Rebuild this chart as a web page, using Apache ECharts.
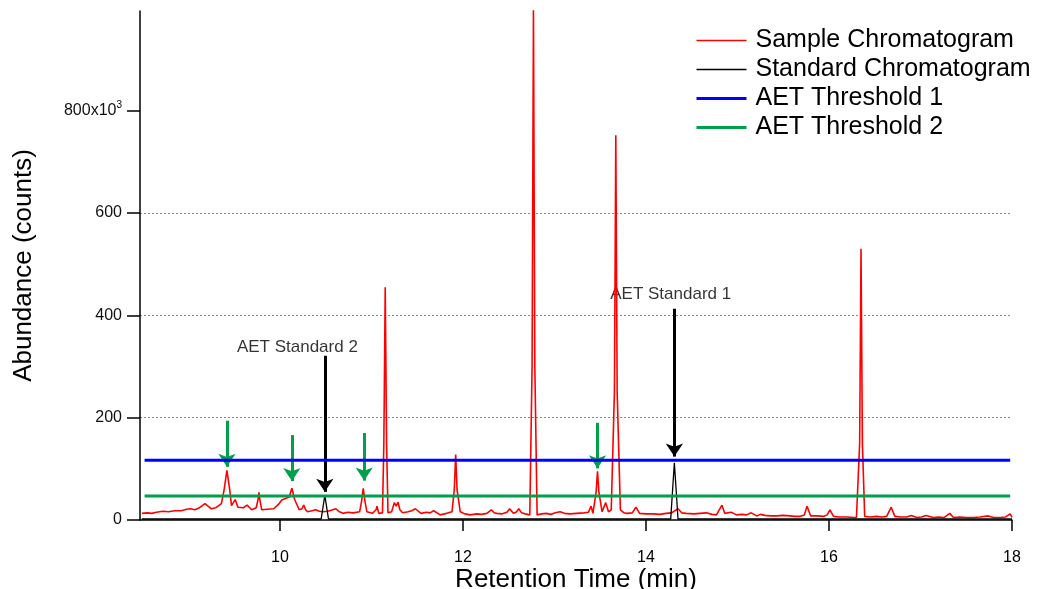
<!DOCTYPE html>
<html>
<head>
<meta charset="utf-8">
<script src="https://cdn.jsdelivr.net/npm/echarts@6/dist/echarts.min.js"></script>
<style>
  html, body { margin: 0; padding: 0; background: #fff; }
  #chart { width: 1042px; height: 589px; }
</style>
</head>
<body>
<div id="chart"></div>
<script>
// retention time (min), abundance (x10^3 counts)
var sampleTrace = [
  [8.49,13],[8.55,14],[8.6,13],[8.65,15],[8.72,17],[8.78,16],[8.85,18],[8.92,18],[8.98,21],[9.02,22],
  [9.07,20],[9.12,24],[9.18,32],[9.22,26],[9.25,22],[9.3,24],[9.36,32],[9.39,60],[9.42,97],[9.45,60],
  [9.47,28],[9.51,40],[9.54,25],[9.56,22],[9.6,24],[9.64,29],[9.69,20],[9.74,24],[9.76,40],[9.77,54],
  [9.78,40],[9.8,20],[9.86,21],[9.93,22],[9.98,30],[10.02,39],[10.06,42],[10.1,45],[10.13,62],[10.16,40],
  [10.21,20],[10.24,22],[10.26,29],[10.28,20],[10.3,16],[10.35,18],[10.39,20],[10.43,17],[10.47,16],[10.52,17],
  [10.56,19],[10.61,22],[10.65,16],[10.69,13],[10.74,15],[10.8,14],[10.87,16],[10.89,35],[10.91,62],[10.93,35],
  [10.95,16],[11.01,13],[11.05,20],[11.06,27],[11.08,13],[11.12,14],[11.135,150],[11.15,455],[11.165,150],[11.18,14],
  [11.22,16],[11.25,34],[11.27,27],[11.29,35],[11.31,20],[11.34,14],[11.4,16],[11.44,18],[11.48,22],[11.54,13],
  [11.6,15],[11.64,14],[11.68,18],[11.75,10],[11.82,13],[11.88,16],[11.905,60],[11.92,128],[11.935,60],[11.97,16],
  [12.02,12],[12.08,10],[12.15,12],[12.2,11],[12.26,13],[12.31,20],[12.34,14],[12.37,13],[12.43,12],[12.48,15],
  [12.51,22],[12.55,13],[12.58,15],[12.61,22],[12.64,14],[12.68,12],[12.73,10],[12.755,300],[12.77,998],[12.785,300],
  [12.81,10],[12.86,12],[12.91,13],[12.96,11],[13.01,14],[13.06,16],[13.11,13],[13.17,12],[13.24,13],[13.32,14],
  [13.37,15],[13.4,27],[13.42,13],[13.455,55],[13.47,95],[13.485,55],[13.52,16],[13.56,34],[13.59,16],[13.62,20],
  [13.655,250],[13.67,752],[13.685,250],[13.72,20],[13.76,14],[13.79,13],[13.85,14],[13.89,25],[13.93,13],[14.0,12],
  [14.08,12],[14.15,11],[14.22,13],[14.28,14],[14.35,22],[14.39,14],[14.44,13],[14.52,12],[14.59,13],[14.66,14],
  [14.72,11],[14.77,10],[14.83,29],[14.86,13],[14.88,10],[14.93,15],[14.99,10],[15.05,11],[15.1,10],[15.15,14],
  [15.21,8],[15.25,11],[15.3,9],[15.36,8],[15.43,8],[15.5,9],[15.57,8],[15.63,7],[15.68,7],[15.73,10],
  [15.76,27],[15.8,8],[15.87,8],[15.94,7],[15.98,10],[16.01,20],[16.05,7],[16.12,6],[16.2,6],[16.27,5],
  [16.3,5],[16.335,150],[16.35,530],[16.365,150],[16.39,7],[16.45,6],[16.52,7],[16.58,6],[16.63,7],[16.68,25],
  [16.72,7],[16.78,6],[16.85,6],[16.9,9],[16.96,5],[17.01,6],[17.06,9],[17.14,5],[17.2,6],[17.26,5],
  [17.32,13],[17.36,5],[17.43,6],[17.5,5],[17.58,5],[17.65,6],[17.74,8],[17.8,5],[17.87,5],[17.93,6],
  [17.98,12],[18.0,5]
];
var standardTrace = [
  [8.49,2],[10.45,2],[10.49,48],[10.53,2],[14.27,2],[14.31,112],[14.35,2],[18.0,2]
];
var threshold1 = [[8.52,117],[17.98,117]];
var threshold2 = [[8.52,47],[17.98,47]];
// green arrows: [x, top, tip]
var peakArrows = [[9.42,194,104],[10.13,166,76],[10.92,170,77],[13.47,190,101]];
// black arrows: [x, top, tip]
var standardArrows = [[10.49,321,55],[14.31,413,124]];
var standardLabels = [[10.19,338,'AET Standard 2'],[14.27,442,'AET Standard 1']];
var xTicks = [10,12,14,16,18];
var yTicks = [0,200,400,600,800];

var font = 'Liberation Sans';
var chart = echarts.init(document.getElementById('chart'));

function arrowLines(list) {
  return list.map(function (a) {
    return [{ coord: [a[0], a[1]] }, { coord: [a[0], a[2]] }];
  });
}

var option = {
  animation: false,
  backgroundColor: '#fff',
  textStyle: { fontFamily: font, color: '#000' },
  grid: { left: 140, right: 30, top: 11, bottom: 69, outerBoundsMode: 'none' },
  legend: {
    orient: 'vertical',
    left: 690,
    top: 23,
    itemWidth: 50,
    itemHeight: 22,
    itemGap: 4,
    itemStyle: { opacity: 0 },
    data: [
      { name: 'Sample Chromatogram', lineStyle: { width: 1.5, color: '#ff0000', opacity: 1 } },
      { name: 'Standard Chromatogram', lineStyle: { width: 1.5, color: '#000000', opacity: 1 } },
      { name: 'AET Threshold 1', lineStyle: { width: 3, color: '#0000ff' } },
      { name: 'AET Threshold 2', lineStyle: { width: 3, color: '#00a04a' } }
    ],
    textStyle: { fontFamily: font, fontSize: 25, color: '#000', padding: [0, 0, 0, 4] }
  },
  xAxis: {
    type: 'value',
    min: 8.47,
    max: 18,
    name: 'Retention Time (min)',
    nameLocation: 'middle',
    nameGap: 47,
    nameMoveOverlap: false,
    nameTextStyle: { fontFamily: font, fontSize: 26, color: '#000' },
    axisLine: { lineStyle: { color: '#000', width: 1.5 } },
    axisTick: { customValues: xTicks, length: 11, lineStyle: { color: '#000', width: 1.5 } },
    axisLabel: { customValues: xTicks, margin: 30, fontSize: 16, color: '#000', fontFamily: font },
    splitLine: { show: false }
  },
  yAxis: {
    type: 'value',
    min: 0,
    max: 995,
    interval: 200,
    name: 'Abundance (counts)',
    nameLocation: 'middle',
    nameGap: 103,
    nameMoveOverlap: false,
    nameTextStyle: { fontFamily: font, fontSize: 26, color: '#000' },
    axisLine: { show: true, lineStyle: { color: '#000', width: 1.5 } },
    axisTick: { show: true, customValues: yTicks, length: 13, lineStyle: { color: '#000', width: 1.5 } },
    axisLabel: {
      customValues: yTicks,
      margin: 18,
      fontSize: 16,
      color: '#111',
      fontFamily: font,
      formatter: function (v) { return v === 800 ? '800x10{sup|3}' : String(v); },
      rich: { sup: { fontSize: 10, verticalAlign: 'top', padding: [0, 0, 12, 0] } }
    },
    splitLine: {
      show: true,
      showMinLine: false,
      showMaxLine: false,
      lineStyle: { color: '#888', type: [2, 2], width: 1 }
    }
  },
  series: [
    {
      name: 'Sample Chromatogram',
      type: 'line',
      data: sampleTrace,
      symbol: 'none',
      clip: true,
      color: '#ff0000',
      lineStyle: { color: '#ff0000', width: 1.6 },
      itemStyle: { color: '#ff0000' },
      z: 3
    },
    {
      name: 'Standard Chromatogram',
      type: 'line',
      data: standardTrace,
      symbol: 'none',
      color: '#000000',
      lineStyle: { color: '#000', width: 1.3 },
      itemStyle: { color: '#000' },
      z: 4
    },
    {
      name: 'AET Threshold 1',
      type: 'line',
      data: threshold1,
      symbol: 'none',
      lineStyle: { color: '#0000ff', width: 3 },
      itemStyle: { color: '#0000ff' },
      z: 5
    },
    {
      name: 'AET Threshold 2',
      type: 'line',
      data: threshold2,
      symbol: 'none',
      lineStyle: { color: '#00a04a', width: 3 },
      itemStyle: { color: '#00a04a' },
      z: 5
    },
    {
      name: 'arrows',
      type: 'line',
      data: [],
      z: 6,
      markLine: {
        silent: true,
        symbol: ['none', 'arrow'],
        symbolSize: 13,
        label: { show: false },
        lineStyle: { color: '#00a04a', width: 3, type: 'solid' },
        itemStyle: { color: '#00a04a' },
        data: arrowLines(peakArrows)
      }
    },
    {
      name: 'standard arrows',
      type: 'line',
      data: [],
      z: 6,
      markLine: {
        silent: true,
        symbol: ['none', 'arrow'],
        symbolSize: 13,
        label: { show: false },
        lineStyle: { color: '#000', width: 3, type: 'solid' },
        itemStyle: { color: '#000' },
        data: arrowLines(standardArrows)
      }
    },
    {
      name: 'labels',
      type: 'scatter',
      data: standardLabels,
      symbolSize: 0,
      silent: true,
      label: {
        show: true,
        position: 'inside',
        fontFamily: font,
        fontSize: 17,
        color: '#000',
        textBorderWidth: 0,
        formatter: function (p) { return p.value[2]; }
      }
    }
  ]
};
chart.setOption(option);
</script>
</body>
</html>
